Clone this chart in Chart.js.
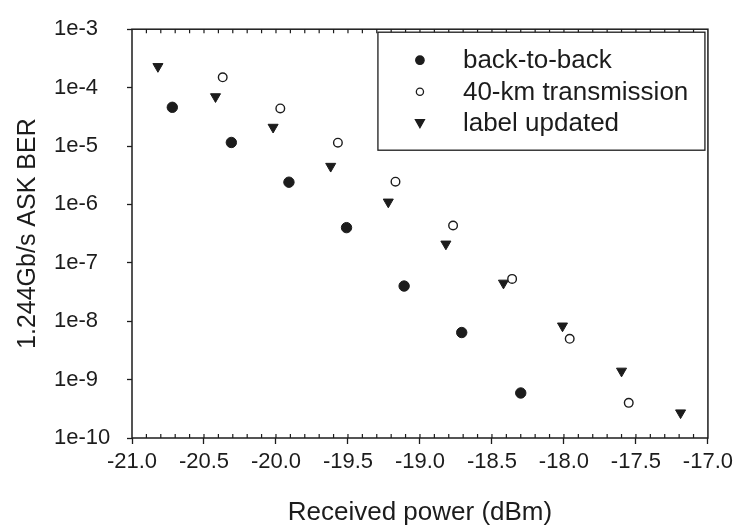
<!DOCTYPE html>
<html>
<head>
<meta charset="utf-8">
<script src="https://cdn.jsdelivr.net/npm/chart.js@4"></script>
<style>
  html, body { margin: 0; padding: 0; background: #fff; }
  #wrap { width: 738px; height: 529px; }
</style>
</head>
<body>
<div id="wrap"><canvas id="berChart" width="738" height="529"></canvas></div>
<script>
// received power (dBm) and BER for each curve
var powerB2B = [-20.72, -20.31, -19.91, -19.51, -19.11, -18.71, -18.30];
var berB2B = [4.6e-5, 1.15e-5, 2.4e-6, 4.0e-7, 4.0e-8, 6.4e-9, 5.9e-10];

var power40km = [-20.37, -19.97, -19.57, -19.17, -18.77, -18.36, -17.96, -17.55];
var ber40km = [1.5e-4, 4.4e-5, 1.14e-5, 2.45e-6, 4.35e-7, 5.3e-8, 5.0e-9, 4.0e-10];

var powerUpdated = [-20.82, -20.42, -20.02, -19.62, -19.22, -18.82, -18.42, -18.01, -17.60, -17.19];
var berUpdated = [2.3e-4, 7.0e-5, 2.1e-5, 4.5e-6, 1.1e-6, 2.1e-7, 4.5e-8, 8.3e-9, 1.4e-9, 2.7e-10];

var seriesNames = ['back-to-back', '40-km transmission', 'label updated'];

// tick labels
var xTickValues = [-21.0, -20.5, -20.0, -19.5, -19.0, -18.5, -18.0, -17.5, -17.0];
var xTickLabels = ['-21.0', '-20.5', '-20.0', '-19.5', '-19.0', '-18.5', '-18.0', '-17.5', '-17.0'];
var yTickValues = [1e-10, 1e-9, 1e-8, 1e-7, 1e-6, 1e-5, 1e-4, 1e-3];
var yTickLabels = ['1e-10', '1e-9', '1e-8', '1e-7', '1e-6', '1e-5', '1e-4', '1e-3'];

function toPoints(xs, ys) {
    return xs.map(function (x, i) { return { x: x, y: ys[i] }; });
}

var ink = '#1c1c1c';
Chart.defaults.font.family = "'Liberation Sans', Arial, sans-serif";
Chart.defaults.color = ink;

// frame, minor ticks and the boxed legend
var framePlugin = {
    id: 'framePlugin',
    afterDraw: function (chart) {
        var ctx = chart.ctx, a = chart.chartArea, xs = chart.scales.x;
        ctx.save();
        ctx.strokeStyle = ink;
        ctx.lineWidth = 1.5;
        ctx.strokeRect(a.left, a.top, a.right - a.left, a.bottom - a.top);

        // minor ticks every 0.1 dBm, pointing inward
        ctx.lineWidth = 1.2;
        ctx.beginPath();
        for (var i = 1; i < 40; i++) {
            var px = xs.getPixelForValue(xs.min + i / 10);
            ctx.moveTo(px, a.top); ctx.lineTo(px, a.top + 4);
            ctx.moveTo(px, a.bottom); ctx.lineTo(px, a.bottom - 4);
        }
        ctx.stroke();

        // legend box
        var bx = a.right - 330, by = a.top + 3, bw = 327, bh = 118;
        ctx.fillStyle = '#fff';
        ctx.fillRect(bx, by, bw, bh);
        ctx.lineWidth = 1.3;
        ctx.strokeRect(bx, by, bw, bh);
        ctx.font = "26px 'Liberation Sans', Arial, sans-serif";
        ctx.textBaseline = 'middle';
        chart.data.datasets.forEach(function (ds, k) {
            var cy = by + 28 + k * 31.5, cx = bx + 42;
            ctx.fillStyle = ds.backgroundColor;
            ctx.strokeStyle = ink;
            ctx.lineWidth = 1.3;
            ctx.beginPath();
            if (ds.pointStyle === 'triangle') {
                ctx.moveTo(cx - 4.5, cy - 3.5);
                ctx.lineTo(cx + 4.5, cy - 3.5);
                ctx.lineTo(cx, cy + 4.5);
                ctx.closePath();
            } else {
                ctx.arc(cx, cy, ds.backgroundColor === '#fff' ? 3.6 : 4.2, 0, Math.PI * 2);
            }
            ctx.fill();
            ctx.stroke();
            ctx.fillStyle = ink;
            ctx.fillText(ds.label, bx + 85, cy + 1);
        });
        ctx.restore();
    }
};

var ctx = document.getElementById('berChart').getContext('2d');
var berChart = new Chart(ctx, {
    type: 'scatter',
    data: {
        datasets: [{
            label: seriesNames[0],
            data: toPoints(powerB2B, berB2B),
            pointStyle: 'circle',
            pointRadius: 5.2,
            backgroundColor: ink,
            borderColor: ink,
            borderWidth: 1
        }, {
            label: seriesNames[1],
            data: toPoints(power40km, ber40km),
            pointStyle: 'circle',
            pointRadius: 4.3,
            backgroundColor: '#fff',
            borderColor: ink,
            borderWidth: 1.4
        }, {
            label: seriesNames[2],
            data: toPoints(powerUpdated, berUpdated),
            pointStyle: 'triangle',
            pointRotation: 180,
            pointRadius: 5.8,
            backgroundColor: ink,
            borderColor: ink,
            borderWidth: 1
        }]
    },
    options: {
        responsive: false,
        animation: false,
        layout: { padding: { top: 19, right: 29, bottom: 0, left: 54 } },
        plugins: {
            legend: { display: false },
            tooltip: { enabled: false }
        },
        scales: {
            x: {
                type: 'linear',
                min: -21,
                max: -17,
                afterFit: function (s) { s.height = 91; },
                afterBuildTicks: function (s) {
                    s.ticks = xTickValues.map(function (v) { return { value: v }; });
                },
                ticks: {
                    font: { size: 22 },
                    padding: 5,
                    maxRotation: 0,
                    callback: function (v) { return xTickLabels[xTickValues.indexOf(v)]; }
                },
                grid: { drawOnChartArea: false, tickLength: 6, tickColor: ink, tickWidth: 1.3 },
                border: { display: false },
                title: {
                    display: true,
                    text: 'Received power (dBm)',
                    font: { size: 26 },
                    padding: { top: 0, bottom: 1 }
                }
            },
            y: {
                type: 'logarithmic',
                min: 1e-10,
                max: 1e-3,
                afterFit: function (s) { s.width = 78; },
                afterBuildTicks: function (s) {
                    s.ticks = yTickValues.map(function (v) { return { value: v }; });
                },
                ticks: {
                    font: { size: 22 },
                    padding: 16,
                    crossAlign: 'far',
                    callback: function (v) { return yTickLabels[yTickValues.indexOf(v)]; }
                },
                grid: { drawOnChartArea: false, tickLength: 5, tickColor: ink, tickWidth: 1.3 },
                border: { display: false },
                title: {
                    display: true,
                    text: '1.244Gb/s ASK BER',
                    font: { size: 25 },
                    padding: { top: -41, bottom: 0 }
                }
            }
        }
    },
    plugins: [framePlugin]
});
</script>
</body>
</html>
